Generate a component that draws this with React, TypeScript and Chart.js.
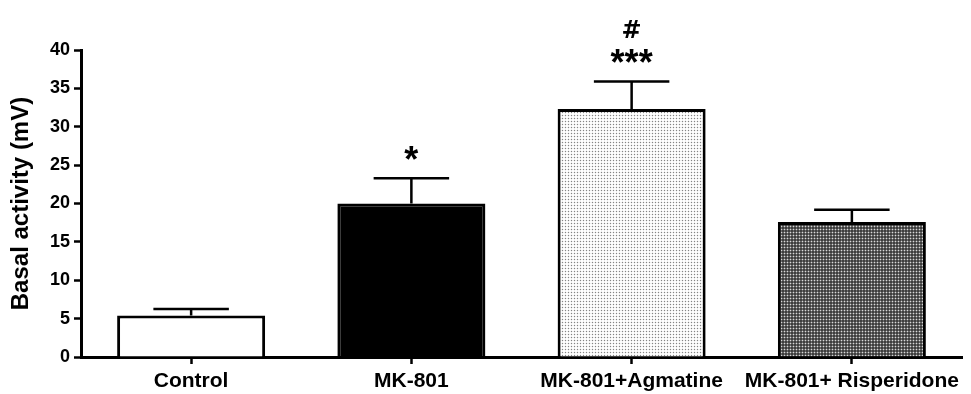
import React, { useEffect, useRef } from 'react';
import { Chart, registerables } from 'chart.js';

Chart.register(...registerables);

const categories = ['Control', 'MK-801', 'MK-801+Agmatine', 'MK-801+ Risperidone'];
const means = [5.4, 20.0, 32.3, 17.6];
const sems = [0.85, 3.3, 3.6, 1.6];
const marks: string[][] = [[], ['*'], ['***', '#'], []];
const yMin = 0;
const yMax = 40;
const yStep = 5;

const FONT = '"Liberation Sans", Arial, Helvetica, sans-serif';
const HASH_FONT = '"DejaVu Sans", "Liberation Sans", Arial, sans-serif';

function makePattern(kind: 'light' | 'dark'): CanvasPattern | string {
  const c = document.createElement('canvas');
  c.width = 3;
  c.height = 3;
  const g = c.getContext('2d');
  if (!g) return '#ccc';
  if (kind === 'light') {
    g.fillStyle = '#ffffff';
    g.fillRect(0, 0, 3, 3);
    g.fillStyle = '#efefef';
    g.fillRect(1, 0, 1, 1);
    g.fillRect(0, 1, 1, 1);
    g.fillRect(2, 1, 1, 1);
    g.fillRect(1, 2, 1, 1);
    g.fillStyle = '#858585';
    g.fillRect(1, 1, 1, 1);
  } else {
    g.fillStyle = '#3e3e3e';
    g.fillRect(0, 0, 3, 3);
    g.fillStyle = '#6a6a6a';
    g.fillRect(1, 0, 1, 1);
    g.fillRect(0, 1, 1, 1);
    g.fillRect(2, 1, 1, 1);
    g.fillRect(1, 2, 1, 1);
    g.fillStyle = '#d8d8d8';
    g.fillRect(1, 1, 1, 1);
  }
  const p = g.createPattern(c, 'repeat');
  return p || '#ccc';
}

const errorBarPlugin = {
  id: 'errorBars',
  afterDatasetsDraw(chart: any) {
    const ctx = chart.ctx;
    const meta = chart.getDatasetMeta(0);
    const y = chart.scales.y;
    ctx.save();
    ctx.strokeStyle = '#000';
    ctx.lineWidth = 2.5;
    meta.data.forEach((bar: any, i: number) => {
      const x = bar.x;
      const yb = y.getPixelForValue(means[i]);
      const yt = y.getPixelForValue(means[i] + sems[i]);
      const half = bar.width * 0.255;
      ctx.beginPath();
      ctx.moveTo(x, yb);
      ctx.lineTo(x, yt);
      ctx.moveTo(x - half, yt);
      ctx.lineTo(x + half, yt);
      ctx.stroke();
      ctx.fillStyle = '#000';
      ctx.textAlign = 'center';
      ctx.textBaseline = 'alphabetic';
      let cy = yt - 25;
      marks[i].forEach((m) => {
        const isHash = m.indexOf('#') >= 0;
        ctx.font = isHash ? `bold 24px ${HASH_FONT}` : `bold 36px ${FONT}`;
        const mt = ctx.measureText(m);
        const base = cy + (mt.actualBoundingBoxAscent - mt.actualBoundingBoxDescent) / 2;
        ctx.fillText(m, x, base);
        cy -= 27;
      });
    });
    ctx.restore();
  },
};

export default function App() {
  const ref = useRef<HTMLCanvasElement | null>(null);
  useEffect(() => {
    document.body.style.margin = '0';
    const canvas = ref.current;
    if (!canvas) return;
    const fills = ['#ffffff', '#000000', makePattern('light'), makePattern('dark')];
    const chart = new Chart(canvas, {
      type: 'bar',
      data: {
        labels: categories,
        datasets: [
          {
            data: means,
            backgroundColor: fills as any,
            borderColor: '#000',
            borderWidth: 3,
            borderSkipped: 'bottom',
            categoryPercentage: 1,
            barPercentage: 0.672,
          },
        ],
      },
      options: {
        animation: false,
        responsive: false,
        devicePixelRatio: 1,
        layout: { padding: { top: 50, right: 9, bottom: 0, left: 0 } },
        plugins: { legend: { display: false }, tooltip: { enabled: false } },
        scales: {
          x: {
            offset: true,
            grid: {
              display: true,
              offset: false,
              drawOnChartArea: false,
              drawTicks: true,
              tickLength: 7,
              tickWidth: 2.5,
              color: '#000',
            },
            border: { display: true, width: 3, color: '#000' },
            ticks: {
              color: '#000',
              font: { family: FONT, size: 21, weight: 'bold' },
              padding: 5,
              maxRotation: 0,
              autoSkip: false,
            },
            afterFit: (s: any) => {
              s.height = 37;
            },
          },
          y: {
            min: yMin,
            max: yMax,
            grid: {
              display: true,
              drawOnChartArea: false,
              drawTicks: true,
              tickLength: 7,
              tickWidth: 2.5,
              color: '#000',
            },
            border: { display: true, width: 3, color: '#000' },
            ticks: {
              stepSize: yStep,
              color: '#000',
              font: { family: FONT, size: 18, weight: 'bold' },
              padding: 4,
            },
            title: {
              display: true,
              text: 'Basal activity (mV)',
              color: '#000',
              font: { family: FONT, size: 24, weight: 'bold' },
              padding: { top: 7, bottom: 0 },
            },
            afterFit: (s: any) => {
              s.width = 81;
            },
          },
        },
      },
      plugins: [errorBarPlugin],
    });
    return () => chart.destroy();
  }, []);
  return (
    <div style={{ width: 971, height: 394, background: '#fff' }}>
      <canvas ref={ref} width={971} height={394} style={{ display: 'block' }} />
    </div>
  );
}
